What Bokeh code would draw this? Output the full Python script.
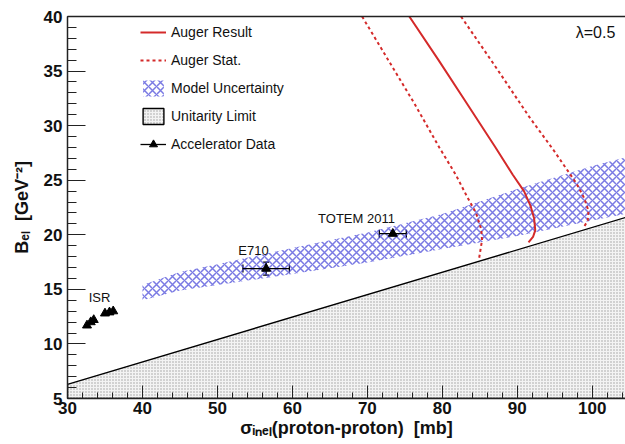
import numpy as np
from bokeh.plotting import figure
from bokeh.models import (Range1d, LinearAxis, SingleIntervalTicker, FixedTicker, Label,
                          Legend, LegendItem, ColumnDataSource, Whisker, TeeHead)
from bokeh.embed import file_html
from bokeh.resources import INLINE

# ---------------- data ----------------
limit_x = [30, 105]
limit_y = [6.3, 21.7]

band_x = [40, 45, 50, 60, 70, 80, 90, 100, 105]
band_lo = [14.0, 14.9, 15.4, 16.4, 17.45, 18.7, 19.9, 21.3, 22.0]
band_hi = [15.4, 16.6, 17.3, 18.8, 20.2, 21.9, 24.2, 26.3, 27.2]

auger_x = [75.6, 79.5, 83.3, 87.1, 89.4, 90.9, 91.8, 92.25, 92.4, 92.1, 91.5]
auger_y = [40, 36, 32, 28, 25.5, 24.0, 22.6, 21.5, 20.4, 19.8, 19.3]

stat_lo_x = [69.3, 72.8, 76.3, 79.6, 81.8, 83.3, 84.5, 85.2, 85.3, 84.9]
stat_lo_y = [40, 36, 32, 28, 25.5, 23.5, 22.0, 20.5, 19.5, 17.8]

stat_hi_x = [82.5, 87.1, 91.6, 94.9, 96.4, 97.9, 98.9, 99.5, 99.4, 98.8]
stat_hi_y = [40, 35.4, 30.8, 27.7, 26.2, 24.7, 23.4, 22.2, 21.3, 20.6]

acc_x = [32.6, 33.1, 33.5, 35.0, 35.6, 36.1, 56.5, 73.4]
acc_y = [11.7, 12.0, 12.2, 12.8, 12.9, 13.0, 16.9, 20.1]
acc_xerr = [0, 0, 0, 0, 0, 0, 3.1, 1.8]
acc_yerr = [0, 0, 0, 0, 0, 0, 0.6, 0.0]

NB = "\u00a0"
x_title = "σᵢₙₑₗ(proton-proton)" + NB + NB + "[mb]"
y_title = "Bₑₗ" + NB + NB + "[GeV⁻²]"
x_ticks_interval = 10
y_ticks_interval = 5
X_MIN, X_MAX = 30, 104.44
Y_MIN, Y_MAX = 5, 40

# ---------------- figure ----------------
W, H = 625, 444
BL, BR, BT, BB = 67, 0, 16, 46
p = figure(width=W, height=H, x_range=Range1d(X_MIN, X_MAX), y_range=Range1d(Y_MIN, Y_MAX),
           output_backend="svg", toolbar_location=None,
           min_border_left=BL, min_border_right=BR, min_border_top=BT, min_border_bottom=BB)
p.outline_line_color = None
p.xgrid.visible = False
p.ygrid.visible = False
p.background_fill_color = "white"
p.border_fill_color = "white"

fw = W - BL - BR
fh = H - BT - BB
def sx(px):
    return X_MIN + (px - BL) * (X_MAX - X_MIN) / fw
def sy(py):
    return Y_MIN + (BT + fh - py) * (Y_MAX - Y_MIN) / fh

RED = "#d42a2a"

# unitarity limit region
uni = p.patch(x=limit_x + [limit_x[-1], limit_x[0]], y=limit_y + [Y_MIN, Y_MIN],
              fill_color="#f3f3f3", hatch_pattern="dot", hatch_color="#9c9c9c",
              hatch_scale=3, hatch_weight=0.8, line_color="black", line_width=1.4)

# model uncertainty band
band = p.varea(x=band_x, y1=band_lo, y2=band_hi, fill_color=None, fill_alpha=0,
               hatch_pattern="x", hatch_color="#4646d8", hatch_alpha=0.72,
               hatch_scale=8, hatch_weight=1.5)

# Auger curves
solid = p.line(auger_x, auger_y, line_color=RED, line_width=2)
dlo = p.line(stat_lo_x, stat_lo_y, line_color=RED, line_width=2, line_dash="3 3")
dhi = p.line(stat_hi_x, stat_hi_y, line_color=RED, line_width=2, line_dash="3 3")

# accelerator data
ax = np.array(acc_x); ay = np.array(acc_y)
axe = np.array(acc_xerr); aye = np.array(acc_yerr)
mx = axe > 0
src_h = ColumnDataSource(dict(y=ay[mx], lo=(ax - axe)[mx], hi=(ax + axe)[mx]))
hseg = p.segment(x0="lo", y0="y", x1="hi", y1="y", source=src_h,
                 line_color="black", line_width=1.3)
p.add_layout(Whisker(source=src_h, base="y", lower="lo", upper="hi", dimension="width",
                     line_alpha=0,
                     upper_head=TeeHead(size=8, line_color="black", line_width=1.3),
                     lower_head=TeeHead(size=8, line_color="black", line_width=1.3)))
my = aye > 0
src_v = ColumnDataSource(dict(x=ax[my], lo=(ay - aye)[my], hi=(ay + aye)[my]))
p.add_layout(Whisker(source=src_v, base="x", lower="lo", upper="hi", dimension="height",
                     line_color="black", line_width=1.3,
                     upper_head=TeeHead(size=6, line_color="black", line_width=1.3),
                     lower_head=TeeHead(size=6, line_color="black", line_width=1.3)))
tri = p.scatter(acc_x, acc_y, marker="triangle", size=9, fill_color="black", line_color="black")

# ---------------- axes ----------------
p.xaxis.ticker = SingleIntervalTicker(interval=x_ticks_interval, num_minor_ticks=5)
p.yaxis.ticker = SingleIntervalTicker(interval=y_ticks_interval, num_minor_ticks=5)
for a in (p.xaxis[0], p.yaxis[0]):
    a.major_tick_out = 0
    a.minor_tick_out = 0
    a.axis_line_width = 1.5
    a.axis_line_color = "#222222"
    a.major_tick_line_color = "#222222"
    a.minor_tick_line_color = "#222222"
    a.major_label_text_font = "Liberation Sans"
    a.major_label_text_font_style = "bold"
    a.major_label_text_font_size = "17px"
    a.major_label_text_color = "#111111"
    a.axis_label_text_font = "Liberation Sans"
    a.axis_label_text_font_style = "bold"
    a.axis_label_text_font_size = "18px"
    a.axis_label_text_color = "#111111"
p.xaxis.axis_label = x_title
p.yaxis.axis_label = y_title
p.xaxis.major_tick_in = 13
p.xaxis.minor_tick_in = 6
p.xaxis.major_label_standoff = 3
p.xaxis.axis_label_standoff = 1
p.yaxis.major_tick_in = 18
p.yaxis.minor_tick_in = 9
p.yaxis.major_label_standoff = 5
p.yaxis.axis_label_standoff = 9

top = LinearAxis(ticker=FixedTicker(ticks=[]), major_label_text_font_size="0px",
                 axis_line_width=1.5, axis_line_color="#222222",
                 major_tick_in=0, major_tick_out=0, minor_tick_in=0, minor_tick_out=0)
p.add_layout(top, "above")

# ---------------- legend ----------------
legend = Legend(items=[
    LegendItem(label="Auger Result", renderers=[solid]),
    LegendItem(label="Auger Stat.", renderers=[dlo]),
    LegendItem(label="Model Uncertainty", renderers=[band]),
    LegendItem(label="Unitarity Limit", renderers=[uni]),
    LegendItem(label="Accelerator Data", renderers=[hseg, tri]),
], location=(73, 244))
legend.background_fill_alpha = 0
legend.border_line_alpha = 0
legend.padding = 0
legend.margin = 0
legend.spacing = 8
legend.glyph_height = 20
legend.glyph_width = 26
legend.label_height = 20
legend.label_standoff = 5
legend.label_text_font = "Liberation Sans"
legend.label_text_font_size = "14px"
legend.label_text_color = "#111111"
p.add_layout(legend)

# ---------------- texts ----------------
def lab(text, px, py, size, style="normal", align="center"):
    p.add_layout(Label(x=sx(px), y=sy(py), text=text, text_font="Liberation Sans",
                       text_font_size=f"{size}px", text_font_style=style,
                       text_align=align, text_baseline="middle", text_color="#111111"))

lab("ISR", 99, 297, 13)
lab("E710", 253, 250, 13)
lab("TOTEM 2011", 356, 218, 13)
lab("λ=0.5", 595, 32, 16)

open("out.html", "w").write(file_html(p, INLINE))
